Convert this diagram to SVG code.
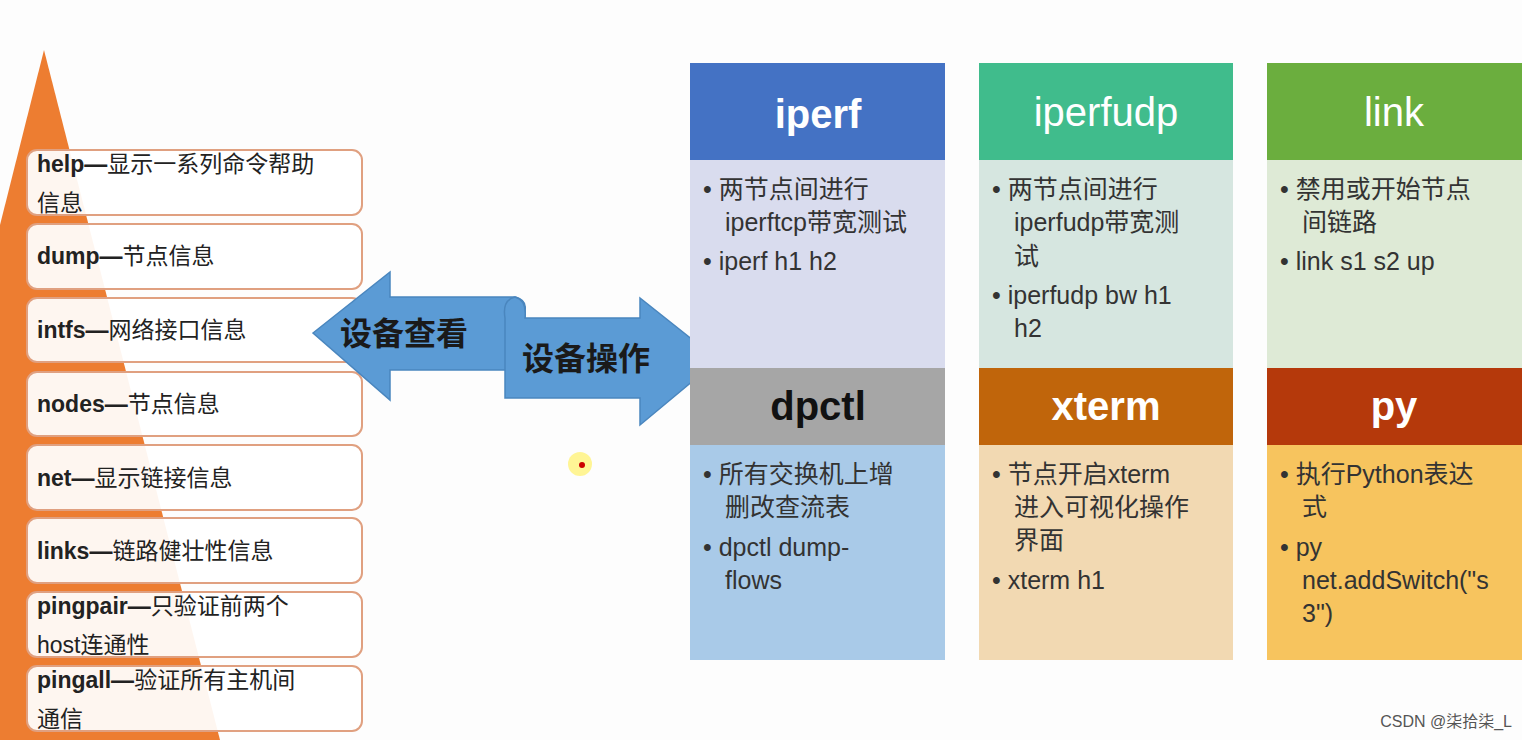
<svg xmlns="http://www.w3.org/2000/svg" width="1522" height="740" viewBox="0 0 1522 740">
<style>
.cmd{font-family:"Liberation Sans","Noto Sans CJK SC",sans-serif;font-size:23px;fill:#222}
.cmd tspan.b{font-weight:bold}
.box{fill:#fff;fill-opacity:0.93;stroke:#E0A080;stroke-width:2}
.hd{font-family:"Liberation Sans","Noto Sans CJK SC",sans-serif;font-size:40px;text-anchor:middle}
.bd{font-family:"Liberation Sans","Noto Sans CJK SC",sans-serif;font-size:25px;fill:#333}
.arr{fill:#5B9BD5;stroke:#4A86BE;stroke-width:1.5}
.at{font-family:"Noto Sans CJK SC",sans-serif;font-size:32px;font-weight:bold;fill:#1a1a1a}
</style>
<rect width="1522" height="740" fill="#fdfdfd"/>
<polygon points="44,50 220,740 0,740 0,225" fill="#ED7D31"/>
<g id="cmds">
<g id="help"><rect class="box" x="27" y="150" width="335" height="65" rx="10"/><text class="cmd" x="37" y="172"><tspan class="b">help—</tspan>显示一系列命令帮助</text><text class="cmd" x="37" y="211">信息</text></g>
<g id="dump"><rect class="box" x="27" y="224" width="335" height="65" rx="10"/><text class="cmd" x="37" y="264"><tspan class="b">dump—</tspan>节点信息</text></g>
<g id="intfs"><rect class="box" x="27" y="298" width="335" height="64" rx="10"/><text class="cmd" x="37" y="338"><tspan class="b">intfs—</tspan>网络接口信息</text></g>
<g id="nodes"><rect class="box" x="27" y="372" width="335" height="64" rx="10"/><text class="cmd" x="37" y="412"><tspan class="b">nodes—</tspan>节点信息</text></g>
<g id="net"><rect class="box" x="27" y="445" width="335" height="65" rx="10"/><text class="cmd" x="37" y="486"><tspan class="b">net—</tspan>显示链接信息</text></g>
<g id="links"><rect class="box" x="27" y="518" width="335" height="65" rx="10"/><text class="cmd" x="37" y="559"><tspan class="b">links—</tspan>链路健壮性信息</text></g>
<g id="pingpair"><rect class="box" x="27" y="592" width="335" height="65" rx="10"/><text class="cmd" x="37" y="614"><tspan class="b">pingpair—</tspan>只验证前两个</text><text class="cmd" x="37" y="653">host连通性</text></g>
<g id="pingall"><rect class="box" x="27" y="666" width="335" height="65" rx="10"/><text class="cmd" x="37" y="688"><tspan class="b">pingall—</tspan>验证所有主机间</text><text class="cmd" x="37" y="727">通信</text></g>
</g>
<g id="arrows">
<path class="arr" d="M313,333 L390,272 L390,297 L515,297 Q527,300 525,310 L525,370 L390,370 L390,400 Z"/>
<path class="arr" d="M505,318 Q502,300 515,297 Q527,300 525,318 L640,318 L640,298 L718,360 L640,425 L640,398 L505,398 Z"/>
<text class="at" x="340" y="345">设备查看</text>
<text class="at" x="522" y="370">设备操作</text>
</g>
<circle cx="580" cy="464" r="12" fill="#FFF27A" opacity="0.8"/><circle cx="582" cy="465" r="3" fill="#C00"/>
<g id="iperf"><rect x="690" y="63" width="255" height="97" fill="#4472C4"/><rect x="690" y="160" width="255" height="208" fill="#D9DCEE"/><text class="hd" x="818" y="128" fill="#fff" font-weight="bold">iperf</text><text class="bd" x="703" y="198">• 两节点间进行</text><text class="bd" x="725" y="231">iperftcp带宽测试</text><text class="bd" x="703" y="270">• iperf h1 h2</text></g>
<g id="iperfudp"><rect x="979" y="63" width="254" height="97" fill="#40BC8C"/><rect x="979" y="160" width="254" height="208" fill="#D6E6E0"/><text class="hd" x="1106" y="126" fill="#fff">iperfudp</text><text class="bd" x="992" y="198">• 两节点间进行</text><text class="bd" x="1014" y="231">iperfudp带宽测</text><text class="bd" x="1014" y="265">试</text><text class="bd" x="992" y="304">• iperfudp bw h1</text><text class="bd" x="1014" y="337">h2</text></g>
<g id="link"><rect x="1267" y="63" width="255" height="97" fill="#6BAE3E"/><rect x="1267" y="160" width="255" height="208" fill="#DEEAD6"/><text class="hd" x="1394" y="126" fill="#fff">link</text><text class="bd" x="1280" y="198">• 禁用或开始节点</text><text class="bd" x="1302" y="231">间链路</text><text class="bd" x="1280" y="270">• link s1 s2 up</text></g>
<g id="dpctl"><rect x="690" y="368" width="255" height="77" fill="#A6A6A6"/><rect x="690" y="445" width="255" height="215" fill="#A9CAE8"/><text class="hd" x="818" y="420" fill="#111" font-weight="bold">dpctl</text><text class="bd" x="703" y="483">• 所有交换机上增</text><text class="bd" x="725" y="516">删改查流表</text><text class="bd" x="703" y="556">• dpctl dump-</text><text class="bd" x="725" y="589">flows</text></g>
<g id="xterm"><rect x="979" y="368" width="254" height="77" fill="#C0650B"/><rect x="979" y="445" width="254" height="215" fill="#F2D9B2"/><text class="hd" x="1106" y="420" fill="#fff" font-weight="bold">xterm</text><text class="bd" x="992" y="483">• 节点开启xterm</text><text class="bd" x="1014" y="516">进入可视化操作</text><text class="bd" x="1014" y="549">界面</text><text class="bd" x="992" y="589">• xterm h1</text></g>
<g id="py"><rect x="1267" y="368" width="255" height="77" fill="#B5390B"/><rect x="1267" y="445" width="255" height="215" fill="#F7C45E"/><text class="hd" x="1394" y="420" fill="#fff" font-weight="bold">py</text><text class="bd" x="1280" y="483">• 执行Python表达</text><text class="bd" x="1302" y="516">式</text><text class="bd" x="1280" y="556">• py</text><text class="bd" x="1302" y="589">net.addSwitch("s</text><text class="bd" x="1302" y="622">3")</text></g>
<text x="1512" y="727" text-anchor="end" font-family="Liberation Sans,Noto Sans CJK SC,sans-serif" font-size="16" fill="#555">CSDN @柒拾柒_L</text>
</svg>
